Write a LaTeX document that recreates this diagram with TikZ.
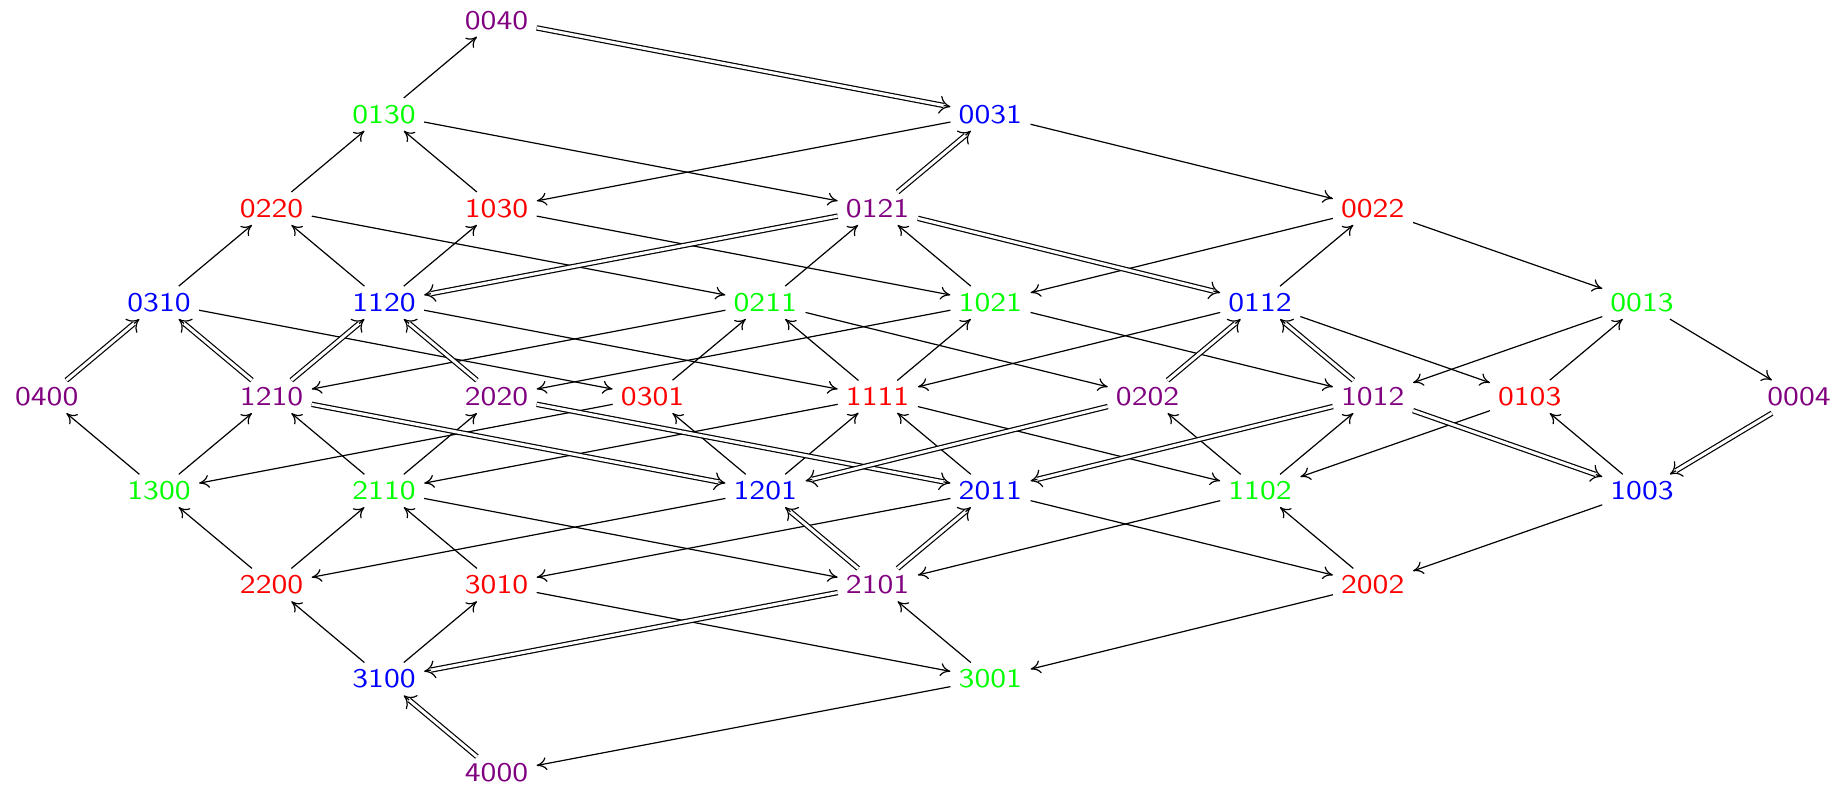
\documentclass[tikz,border=0pt]{standalone}
\usetikzlibrary{arrows.meta}
\definecolor{wtpurple}{RGB}{128,0,128}
\begin{document}
\begin{tikzpicture}[x=0.41841pt, y=-0.5pt, xscale=1.195,
  every node/.style={transform shape, font=\fontsize{13.5}{16}\selectfont\sffamily},
  wt/.style={inner sep=0.3333em},
  arr/.style={-{Computer Modern Rightarrow[length=5pt, width=6.5pt]}, line width=0.6pt},
  % a double edge: a centre line carrying the tip, then the two strands on top
  dbltip/.style={-{Computer Modern Rightarrow[length=5.5pt, width=9pt]}, line width=0.6pt},
  dblshaft/.style={double, double distance=1.5pt, line width=0.6pt, shorten >=3.5pt}]
\useasboundingbox (0,0) rectangle (1847,787);

% weights, row by row
\node[wt, text=wtpurple] (n0040) at (496.5,20.3) {0040};

\node[wt, text=green] (n0130) at (384,114.4) {0130};
\node[wt, text=blue] (n0031) at (990.3,114.4) {0031};

\node[wt, text=red] (n0220) at (271.6,208.5) {0220};
\node[wt, text=red] (n1030) at (496.5,208.5) {1030};
\node[wt, text=wtpurple] (n0121) at (877.6,208.5) {0121};
\node[wt, text=red] (n0022) at (1372.7,208.5) {0022};

\node[wt, text=blue] (n0310) at (159,302.6) {0310};
\node[wt, text=blue] (n1120) at (384,302.6) {1120};
\node[wt, text=green] (n0211) at (765.3,302.6) {0211};
\node[wt, text=green] (n1021) at (990.3,302.6) {1021};
\node[wt, text=blue] (n0112) at (1260,302.6) {0112};
\node[wt, text=green] (n0013) at (1642,302.6) {0013};

\node[wt, text=wtpurple] (n0400) at (46.7,396.7) {0400};
\node[wt, text=wtpurple] (n1210) at (271.6,396.7) {1210};
\node[wt, text=wtpurple] (n2020) at (496.5,396.7) {2020};
\node[wt, text=red] (n0301) at (652.6,396.7) {0301};
\node[wt, text=red] (n1111) at (877.6,396.7) {1111};
\node[wt, text=wtpurple] (n0202) at (1147.6,396.7) {0202};
\node[wt, text=wtpurple] (n1012) at (1372.7,396.7) {1012};
\node[wt, text=red] (n0103) at (1529.7,396.7) {0103};
\node[wt, text=wtpurple] (n0004) at (1799,396.7) {0004};

\node[wt, text=green] (n1300) at (159,490.8) {1300};
\node[wt, text=green] (n2110) at (384,490.8) {2110};
\node[wt, text=blue] (n1201) at (765.3,490.8) {1201};
\node[wt, text=blue] (n2011) at (990.3,490.8) {2011};
\node[wt, text=green] (n1102) at (1260,490.8) {1102};
\node[wt, text=blue] (n1003) at (1642,490.8) {1003};

\node[wt, text=red] (n2200) at (271.6,584.9) {2200};
\node[wt, text=red] (n3010) at (496.5,584.9) {3010};
\node[wt, text=wtpurple] (n2101) at (877.6,584.9) {2101};
\node[wt, text=red] (n2002) at (1372.7,584.9) {2002};

\node[wt, text=blue] (n3100) at (384,679) {3100};
\node[wt, text=green] (n3001) at (990.3,679) {3001};

\node[wt, text=wtpurple] (n4000) at (496.5,773.1) {4000};

% single arrows
\foreach \a/\b in {0130/0040, 0130/0121, 0031/1030, 0031/0022, 0220/0130,
  1030/0130, 1030/1021, 0220/0211, 0310/0220, 1120/0220, 1120/1030,
  0211/0121, 1021/0121, 0022/1021, 0112/0022, 0022/0013, 0310/0301,
  1120/1111, 0211/1210, 0211/0202, 1021/2020, 1021/1012, 0112/1111,
  0112/0103, 0013/1012, 0013/0004, 0301/0211, 1111/0211, 1111/1021,
  0103/0013, 1300/0400, 1300/1210, 2110/1210, 2110/2020, 0301/1300,
  1111/2110, 1111/1102, 1201/0301, 1201/1111, 2011/1111, 1102/0202,
  1102/1012, 0103/1102, 1003/0103, 2200/1300, 2200/2110, 3010/2110,
  2110/2101, 1201/2200, 2011/3010, 2011/2002, 1102/2101, 2002/1102,
  1003/2002, 3100/2200, 3100/3010, 3010/3001, 3001/2101, 2002/3001,
  3001/4000}
  \draw[arr] (n\a) -- (n\b);

% double arrows
\foreach \a/\b in {0040/0031, 0121/0031, 0121/1120, 0121/0112, 0400/0310,
  1210/0310, 1210/1120, 2020/1120, 0202/0112, 1012/0112, 1210/1201,
  2020/2011, 0202/1201, 1012/2011, 1012/1003, 0004/1003, 2101/1201,
  2101/2011, 2101/3100, 4000/3100}
  {
  \draw[dbltip] (n\a) -- (n\b);
  \draw[dblshaft] (n\a) -- (n\b);
  }
\end{tikzpicture}
\end{document}
